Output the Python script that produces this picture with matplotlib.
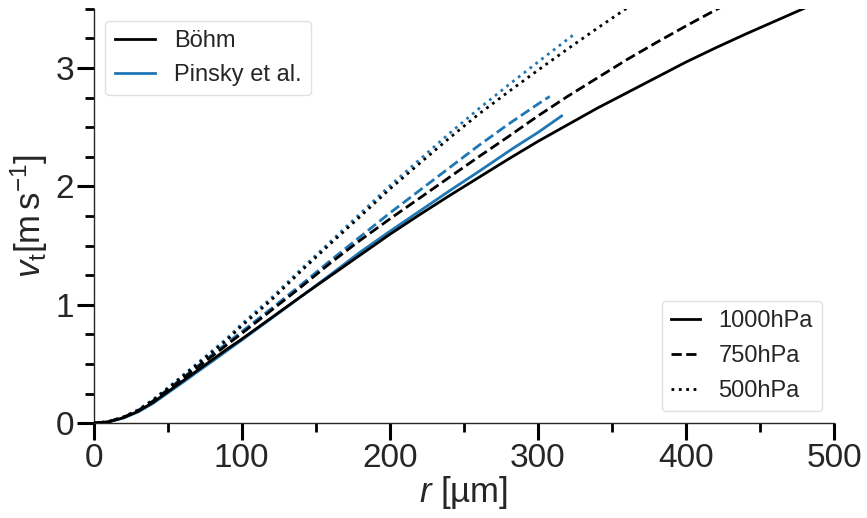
import matplotlib
matplotlib.use("Agg")
import matplotlib.pyplot as plt
from matplotlib.lines import Line2D
from matplotlib.ticker import MultipleLocator

# radius grid [um] for the Böhm curves
r_bohm = [0, 10, 20, 30, 40, 50, 60, 70, 80, 90, 100, 120, 140, 160, 180, 200, 220, 240,
          260, 280, 300, 320, 340, 360, 380, 400, 420, 440, 460, 480, 500]
v_bohm_1000 = [0, 0.012, 0.046, 0.10, 0.175, 0.265, 0.355, 0.445, 0.535, 0.625, 0.71, 0.89, 1.07,
               1.245, 1.42, 1.595, 1.76, 1.92, 2.075, 2.23, 2.38, 2.52, 2.66, 2.79, 2.92,
               3.05, 3.17, 3.285, 3.395, 3.505, 3.61]
v_bohm_750 = [0, 0.013, 0.049, 0.105, 0.184, 0.279, 0.374, 0.470, 0.566, 0.662, 0.758, 0.953, 1.150,
              1.354, 1.545, 1.725, 1.90, 2.075, 2.25, 2.42, 2.595, 2.76, 2.915, 3.07, 3.215,
              3.355, 3.49, 3.62, 3.745, 3.865, 3.98]
v_bohm_500 = [0, 0.013, 0.051, 0.11, 0.193, 0.292, 0.394, 0.496, 0.599, 0.703, 0.822, 1.04, 1.284,
              1.517, 1.746, 1.978, 2.193, 2.406, 2.61, 2.798, 2.981, 3.16, 3.335, 3.505, 3.66,
              3.81, 3.95, 4.09, 4.22, 4.35, 4.48]

# Pinsky et al. (shorter range)
r_pin_1000 = [0, 10, 20, 30, 40, 50, 60, 70, 80, 90, 100, 120, 140, 160, 180, 200, 220, 240, 260, 283, 300, 316]
v_pin_1000 = [0, 0.011, 0.043, 0.095, 0.167, 0.255, 0.343, 0.433, 0.522, 0.612, 0.702, 0.885, 1.068,
              1.255, 1.445, 1.62, 1.79, 1.96, 2.125, 2.32, 2.455, 2.595]
r_pin_750 = [0, 10, 20, 30, 40, 50, 60, 70, 80, 90, 100, 120, 140, 160, 180, 200, 220, 240, 260, 280, 300, 308]
v_pin_750 = [0, 0.013, 0.05, 0.108, 0.188, 0.285, 0.382, 0.480, 0.578, 0.676, 0.773, 0.968, 1.168,
             1.375, 1.575, 1.775, 1.965, 2.155, 2.345, 2.525, 2.695, 2.76]
r_pin_500 = [0, 10, 20, 30, 40, 50, 60, 70, 80, 90, 100, 120, 140, 160, 180, 200, 220, 240, 260, 280, 300, 325]
v_pin_500 = [0, 0.013, 0.052, 0.113, 0.198, 0.298, 0.402, 0.506, 0.611, 0.717, 0.838, 1.058, 1.30,
             1.535, 1.77, 2.005, 2.225, 2.445, 2.655, 2.855, 3.05, 3.29]

pressures = ["1000hPa", "750hPa", "500hPa"]
styles = ["-", "--", ":"]

plt.rcParams["font.family"] = ["Liberation Sans", "DejaVu Sans"]
plt.rcParams["mathtext.fontset"] = "custom"
plt.rcParams["mathtext.rm"] = "Liberation Sans"
plt.rcParams["mathtext.it"] = "Liberation Sans:italic"

blue = "#1f77b4"
lw = 2.0

fig = plt.figure(figsize=(8.67, 5.18), dpi=100)
ax = fig.add_axes([0.108, 0.183, 0.854, 0.800])

bohm = [v_bohm_1000, v_bohm_750, v_bohm_500]
pin = [(r_pin_1000, v_pin_1000), (r_pin_750, v_pin_750), (r_pin_500, v_pin_500)]
for i in range(3):
    ax.plot(pin[i][0], pin[i][1], color=blue, ls=styles[i], lw=lw, zorder=2)
    ax.plot(r_bohm, bohm[i], color="black", ls=styles[i], lw=lw, zorder=3)

ax.set_xlim(0, 500)
ax.set_ylim(0, 3.5)
ax.xaxis.set_major_locator(MultipleLocator(100))
ax.xaxis.set_minor_locator(MultipleLocator(50))
ax.yaxis.set_major_locator(MultipleLocator(1))
ax.yaxis.set_minor_locator(MultipleLocator(0.25))

for s in ["top", "right"]:
    ax.spines[s].set_visible(False)
for s in ["left", "bottom"]:
    ax.spines[s].set_linewidth(1.0)
    ax.spines[s].set_color(".15")

ax.tick_params(which="major", length=12, width=2.2, color="black", labelsize=24, labelcolor=".15", pad=2)
ax.tick_params(which="minor", length=6.5, width=2.0, color="black")

ax.set_xlabel(r"$r$ [µm]", fontsize=25, color=".15", labelpad=0)
ax.set_ylabel(r"$v_\mathrm{t}[\mathrm{m\,s^{-1}}]$", fontsize=25, color=".15", labelpad=4)

h1 = [Line2D([], [], color="black", lw=lw), Line2D([], [], color=blue, lw=lw)]
leg1 = ax.legend(h1, ["Böhm", "Pinsky et al."], loc="upper left", fontsize=17,
                 frameon=True, fancybox=True, edgecolor="0.85", handlelength=1.7,
                 borderaxespad=0.5)
for t in leg1.get_texts():
    t.set_color(".15")
ax.add_artist(leg1)

h2 = [Line2D([], [], color="black", ls=st, lw=lw) for st in styles]
leg2 = ax.legend(h2, pressures, loc="lower right", fontsize=17,
                 frameon=True, fancybox=True, edgecolor="0.85", handlelength=1.2,
                 borderaxespad=0.5, labelspacing=0.55)
for t in leg2.get_texts():
    t.set_color(".15")

fig.savefig("out.png", dpi=100)
